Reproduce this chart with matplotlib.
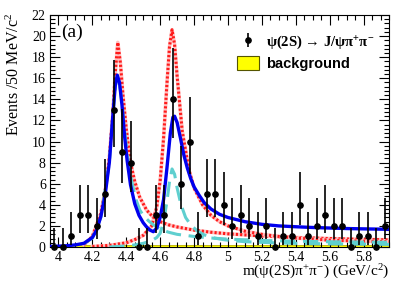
import numpy as np
import matplotlib
matplotlib.use('Agg')
import matplotlib.pyplot as plt
from matplotlib.patches import Patch
from matplotlib.ticker import MultipleLocator, FuncFormatter

plt.rcParams['font.family'] = ['Liberation Serif', 'DejaVu Serif']
plt.rcParams['mathtext.fontset'] = 'custom'
plt.rcParams['mathtext.rm'] = 'Liberation Serif'
plt.rcParams['mathtext.bf'] = 'Liberation Serif:bold'
plt.rcParams['mathtext.default'] = 'regular'

# data: events per 50 MeV bin (bin centres)
mass = [3.975, 4.025, 4.075, 4.125, 4.175, 4.225, 4.275, 4.325, 4.375, 4.425,
        4.475, 4.525, 4.575, 4.625, 4.675, 4.725, 4.775, 4.825, 4.875, 4.925,
        4.975, 5.025, 5.075, 5.125, 5.175, 5.225, 5.275, 5.325, 5.375, 5.425,
        5.475, 5.525, 5.575, 5.625, 5.675, 5.725, 5.775, 5.825, 5.875, 5.925]
events = [0, 0, 1, 3, 3, 2, 5, 13, 9, 8,
          0, 0, 3, 3, 14, 6, 10, 1, 5, 5,
          4, 2, 3, 2, 1, 2, 0, 1, 1, 4,
          1, 2, 3, 2, 2, 0, 1, 1, 0, 2]

# total fit (blue)
fit_x = [3.95, 4.0, 4.05, 4.10, 4.15, 4.20, 4.225, 4.25, 4.275, 4.30, 4.32, 4.335,
         4.347, 4.36, 4.375, 4.39, 4.405, 4.425, 4.45, 4.475, 4.50, 4.52, 4.54,
         4.56, 4.58, 4.60, 4.62, 4.64, 4.66, 4.675, 4.685, 4.70, 4.72, 4.74,
         4.76, 4.78, 4.80, 4.83, 4.86, 4.90, 4.95, 5.00, 5.10, 5.20, 5.30, 5.40,
         5.50, 5.60, 5.70, 5.80, 5.95]
fit_y = [0.05, 0.08, 0.12, 0.2, 0.35, 0.9, 1.6, 2.9, 4.9, 8.0, 12.3, 15.3,
         16.3, 15.6, 13.4, 10.5, 8.2, 5.9, 4.1, 3.0, 2.3, 1.9, 1.6,
         1.45, 1.8, 2.8, 4.5, 7.5, 10.8, 12.3, 12.4, 11.8, 10.3, 8.7,
         7.5, 6.5, 5.7, 4.9, 4.2, 3.6, 3.1, 2.8, 2.4, 2.15, 2.0, 1.92,
         1.85, 1.8, 1.75, 1.72, 1.68]

# single resonances (red dotted)
bw1_x = [4.15, 4.20, 4.25, 4.28, 4.30, 4.32, 4.335, 4.35, 4.365, 4.38, 4.40,
         4.425, 4.45, 4.48, 4.52, 4.56, 4.60, 4.65, 4.70, 4.80, 4.90, 5.00,
         5.20, 5.40, 5.60, 5.80, 5.95]
bw1_y = [0.2, 1.0, 3.2, 5.8, 8.5, 12.5, 16.5, 19.4, 17.5, 14.5, 11.2,
         8.0, 6.2, 4.7, 3.5, 2.8, 2.4, 2.1, 1.9, 1.6, 1.4, 1.25,
         1.05, 0.9, 0.8, 0.72, 0.68]
bw2_x = [4.20, 4.30, 4.40, 4.45, 4.50, 4.55, 4.58, 4.60, 4.62, 4.64, 4.655,
         4.67, 4.685, 4.70, 4.73, 4.77, 4.80, 4.85, 4.90, 4.95, 5.00,
         5.10, 5.20, 5.30, 5.40, 5.60, 5.80, 5.95]
bw2_y = [0.05, 0.15, 0.4, 0.7, 1.1, 2.0, 3.8, 6.3, 10.3, 15.5, 19.0,
         20.6, 19.2, 16.2, 11.0, 7.3, 5.6, 4.0, 3.0, 2.4, 2.0,
         1.5, 1.2, 1.0, 0.85, 0.65, 0.55, 0.5]

# components of the other solution (cyan dashed)
c1_x = [4.15, 4.20, 4.25, 4.30, 4.32, 4.335, 4.347, 4.36, 4.375, 4.39, 4.41,
        4.43, 4.455, 4.48, 4.50, 4.53, 4.56, 4.60, 4.65, 4.70, 4.80, 4.90,
        5.00, 5.20, 5.40, 5.60, 5.80, 5.95]
c1_y = [0.3, 0.85, 2.8, 8.0, 12.2, 15.2, 16.1, 15.6, 13.6, 11.0, 8.4,
        6.4, 4.6, 3.5, 3.0, 2.5, 2.1, 1.7, 1.4, 1.2, 1.0, 0.85,
        0.75, 0.62, 0.55, 0.5, 0.47, 0.45]
c2_x = [4.30, 4.40, 4.45, 4.50, 4.55, 4.58, 4.60, 4.62, 4.64, 4.655, 4.67,
        4.685, 4.70, 4.72, 4.73, 4.75, 4.78, 4.82, 4.86, 4.92, 4.98, 5.10,
        5.30, 5.50, 5.80, 5.95]
c2_y = [0.0, 0.1, 0.2, 0.35, 0.6, 0.9, 1.3, 2.4, 4.3, 6.2, 7.4,
        6.9, 5.6, 4.2, 3.7, 2.8, 2.1, 1.5, 1.15, 0.85, 0.68, 0.5,
        0.38, 0.32, 0.27, 0.25]

bkg_x = [3.95, 5.95]
bkg_y = [0.15, 0.15]


def poisson_err(n):
    # approx. Garwood 68% interval (Wilson-Hilferty for chi2 quantiles)
    n = np.asarray(n, float)
    def chi2q(k, z):
        return k * (1 - 2 / (9 * k) + z * np.sqrt(2 / (9 * k))) ** 3
    lo = np.where(n > 0, chi2q(np.maximum(2 * n, 1e-9), -1) / 2, 0.0)
    hi = chi2q(2 * n + 2, 1) / 2
    return n - lo, hi - n


fig = plt.figure(figsize=(4.10, 2.94), dpi=100)
ax = fig.add_axes([50 / 410, 1 - 247 / 294, 339 / 410, 232 / 294])

ax.fill_between(bkg_x, 0, bkg_y, color='#ffff00', edgecolor='#b8b000', lw=0.6, zorder=1)
for bx, by in [(bw1_x, bw1_y), (bw2_x, bw2_y)]:
    # pink halo + red dots, like the antialiased ROOT dotted line
    ax.plot(bx, by, color='#ffc0c0', lw=2.6, zorder=2)
    ax.plot(bx, by, color='#ff1a1a', lw=2.2, ls=(0, (0.7, 0.7)), zorder=2)
ax.plot(c1_x, c1_y, color='#5fcfcf', lw=2.2, ls=(0, (5, 2.5)), zorder=3)
ax.plot(c2_x, c2_y, color='#5fcfcf', lw=2.2, ls=(0, (5, 2.5)), zorder=3)
ax.plot(fit_x, fit_y, color='#0000ee', lw=2.4, zorder=4)

err_lo, err_hi = poisson_err(events)
dat = ax.errorbar(mass, events, yerr=[err_lo, err_hi], fmt='o', color='black',
                  ms=3.8, elinewidth=1.2, capsize=0, zorder=5, clip_on=False)

ax.set_xlim(3.95, 5.95)
ax.set_ylim(0, 22)
ax.xaxis.set_major_locator(MultipleLocator(0.2))
ax.xaxis.set_minor_locator(MultipleLocator(0.05))
ax.yaxis.set_major_locator(MultipleLocator(2))
ax.yaxis.set_minor_locator(MultipleLocator(0.4))
ax.xaxis.set_major_formatter(FuncFormatter(lambda v, p: '%g' % round(v, 2)))
ax.tick_params(which='both', direction='in', top=True, right=True, labelsize=10)
ax.tick_params(which='major', length=7, width=0.8, pad=3)
ax.tick_params(which='minor', length=3.5, width=0.8)
for s in ax.spines.values():
    s.set_linewidth(0.8)

ax.text(0.032, 0.927, '(a)', transform=ax.transAxes, fontsize=14, va='center', ha='left')

fig.text(14 / 410, 1 - 13 / 294, 'Events /50 MeV/c$^{2}$', rotation=90,
         fontsize=11.5, ha='center', va='top')
fig.text(389 / 410, 1 - 272 / 294, 'm(ψ(2S)π$^{+}$π$^{-}$) (GeV/c$^{2}$)',
         fontsize=11, ha='right', va='center')

bkg_patch = Patch(facecolor='#ffff00', edgecolor='#555500', lw=0.8)
leg = ax.legend([dat, bkg_patch], ['ψ(2S) → J/ψπ$^{+}$π$^{-}$', 'background'],
                loc='upper left', bbox_to_anchor=(0.531, 0.95), frameon=False,
                handlelength=1.5, handleheight=1.1, handletextpad=0.5,
                borderpad=0, labelspacing=0.35, fontsize=10.5)
t1, t2 = leg.get_texts()
t1.set_fontweight('bold')
t2.set_fontweight('bold')
t2.set_family(['Liberation Sans', 'DejaVu Sans'])

fig.savefig('out.png', dpi=100)
